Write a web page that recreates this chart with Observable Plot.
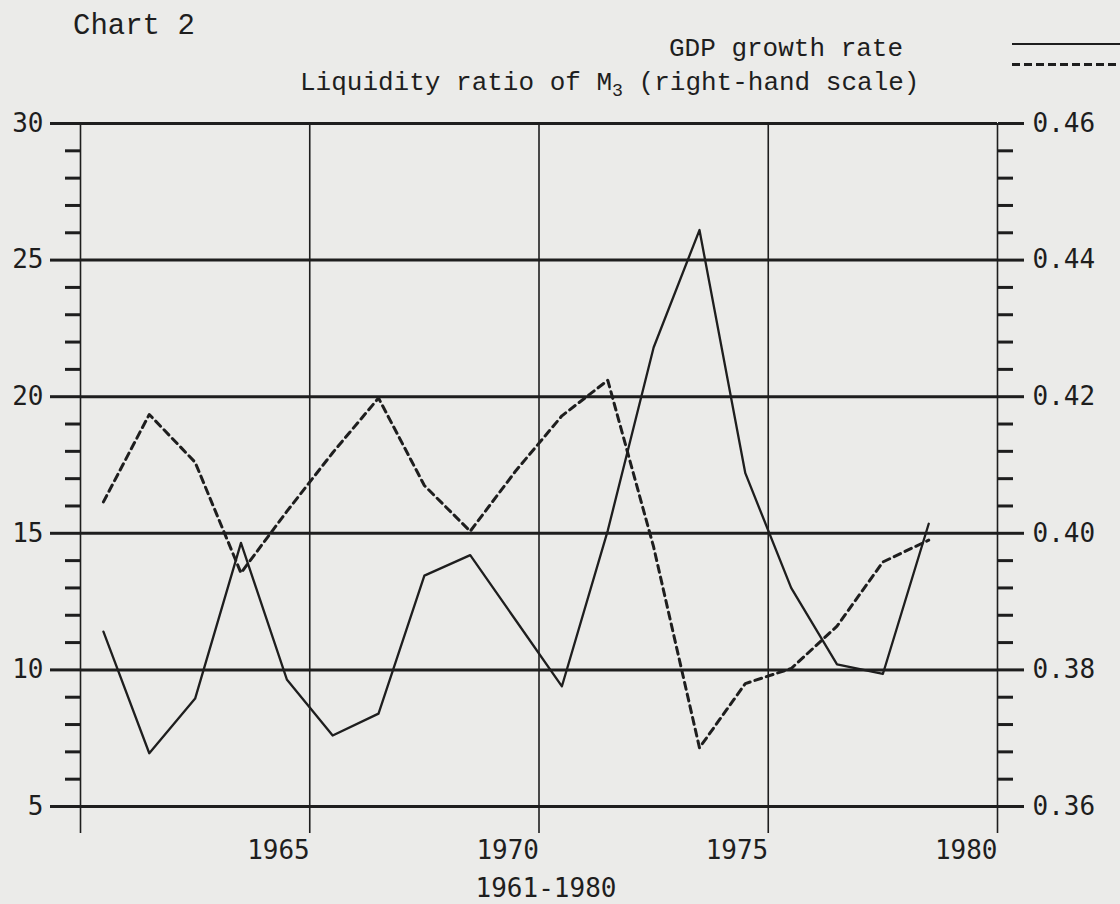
<!DOCTYPE html>
<html><head><meta charset="utf-8">
<script src="https://cdn.jsdelivr.net/npm/d3@7"></script>
<script src="https://cdn.jsdelivr.net/npm/@observablehq/plot@0.6"></script>
<style>
html,body{margin:0;padding:0;background:#ebebe9;}
#wrap{position:relative;width:1120px;height:904px;overflow:hidden;background:#ebebe9;}
#head{position:relative;width:1120px;height:100px;}
.t{position:absolute;white-space:pre;font-family:"Liberation Mono",monospace;color:#1e1e1e;line-height:1;}
.t sub{font-size:0.7em;vertical-align:-0.35em;line-height:0;}
.lg{position:absolute;left:1012px;width:108px;}
</style></head><body>
<div id="wrap">
  <div id="head"></div>
  <div id="chart"></div>
</div>
<script>
// ---- data ----
const years = [1961,1962,1963,1964,1965,1966,1967,1968,1969,1970,1971,1972,1973,1974,1975,1976,1977,1978,1979];
const gdpGrowth = [11.4,6.95,8.95,14.65,9.65,7.6,8.4,13.45,14.2,11.8,9.4,15.1,21.8,26.1,17.2,13.0,10.2,9.85,15.35];
const liquidityRatio = [0.4046,0.4174,0.4104,0.3942,0.4032,0.4118,0.4198,0.4070,0.4003,0.4092,0.4172,0.4224,0.3980,0.3686,0.3780,0.3802,0.3864,0.3958,0.3990];
const leftTicks = [5,10,15,20,25,30];
const leftTickLabels = ["5","10","15","20","25","30"];
const rightTickLabels = ["0.36","0.38","0.40","0.42","0.44","0.46"];
const yearTicks = [1960,1965,1970,1975,1980];
const yearTickLabels = ["","1965","1970","1975","1980"];
const titleText = "Chart 2";
const legendGdp = "GDP growth rate";
const legendLiq = ["Liquidity ratio of M", "3", " (right-hand scale)"];
const periodLabel = "1961-1980";

const ink = "#1e1e1e";

// header (title + legend)
const head = document.getElementById("head");
head.innerHTML = `
  <div class="t" style="left:73px;top:12px;font-size:29px;">${titleText}</div>
  <div class="t" style="left:669px;top:36px;font-size:26px;">${legendGdp}</div>
  <div class="t" style="left:300px;top:70px;font-size:26px;">${legendLiq[0]}<sub>${legendLiq[1]}</sub>${legendLiq[2]}</div>
  <div class="lg" style="top:43px;height:0;border-top:2.5px solid ${ink};"></div>
  <div class="lg" style="top:63px;height:3px;background:repeating-linear-gradient(to right, ${ink} 0 8px, transparent 8px 12px);"></div>
`;

// right-hand scale mapping (from the tick arrays)
const r0 = +rightTickLabels[0], r1 = +rightTickLabels[rightTickLabels.length-1];
const l0 = leftTicks[0], l1 = leftTicks[leftTicks.length-1];
const toLeft = r => l0 + (r - r0) / (r1 - r0) * (l1 - l0);

// each annual value plotted at the middle of its year interval
const rows = years.map((yr, i) => ({t: yr - 0.5, gdp: gdpGrowth[i], liq: toLeft(liquidityRatio[i])}));
const minor = d3.range(l0, l1 + 1).filter(v => !leftTicks.includes(v));

const plot = Plot.plot({
  width: 1120, height: 804,
  marginTop: 23, marginBottom: 98, marginLeft: 80, marginRight: 123,
  x: {domain: [1960, 1980], axis: null},
  y: {domain: [l0, l1], axis: null},
  style: {fontFamily: "'DejaVu Sans Mono', monospace", fontSize: "26px", color: ink, background: "transparent", overflow: "visible"},
  marks: [
    Plot.ruleY(leftTicks, {stroke: ink, strokeWidth: 3}),
    Plot.ruleX(yearTicks, {stroke: ink, strokeWidth: 1.6}),
    Plot.axisY(leftTicks, {anchor: "left", tickSize: 30, tickPadding: 7, stroke: ink, strokeWidth: 3,
      tickFormat: d => leftTickLabels[leftTicks.indexOf(d)], fontSize: 26, label: null}),
    Plot.axisY(minor, {anchor: "left", tickSize: 15, stroke: ink, strokeWidth: 3, tickFormat: () => "", label: null}),
    Plot.axisY(leftTicks, {anchor: "right", tickSize: 26, tickPadding: 9, stroke: ink, strokeWidth: 3,
      tickFormat: d => rightTickLabels[leftTicks.indexOf(d)], fontSize: 26, label: null}),
    Plot.axisY(minor, {anchor: "right", tickSize: 15, stroke: ink, strokeWidth: 3, tickFormat: () => "", label: null}),
    Plot.axisX(yearTicks, {anchor: "bottom", tickSize: 27, tickPadding: 7, stroke: ink, strokeWidth: 1.6,
      textAnchor: "end", tickFormat: d => yearTickLabels[yearTicks.indexOf(d)], fontSize: 26, label: null}),
    Plot.line(rows, {x: "t", y: "gdp", stroke: ink, strokeWidth: 2.3}),
    Plot.line(rows, {x: "t", y: "liq", stroke: ink, strokeWidth: 3, strokeDasharray: "7,5"}),
    Plot.text([periodLabel], {frameAnchor: "bottom", dy: 82, dx: 7, lineAnchor: "middle", fontSize: 26, fill: ink})
  ]
});
document.getElementById("chart").appendChild(plot);
</script>
</body></html>
